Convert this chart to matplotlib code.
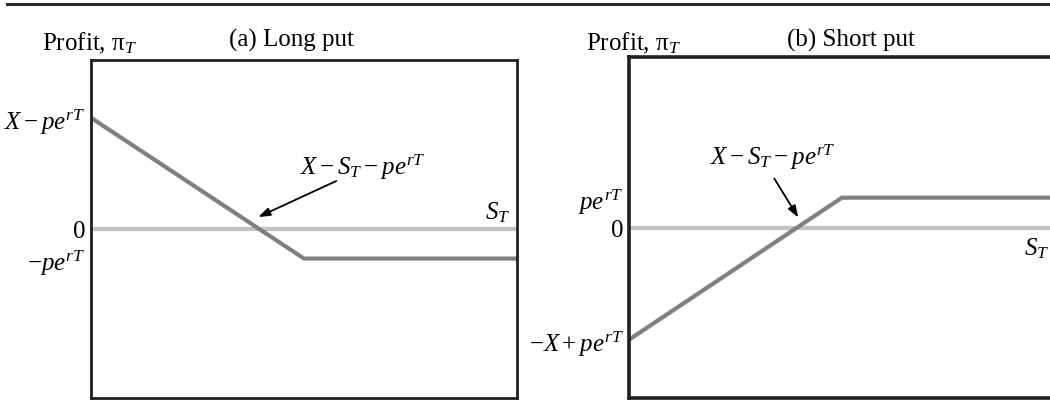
import matplotlib
matplotlib.use('Agg')
import matplotlib.pyplot as plt
from matplotlib.lines import Line2D
from matplotlib.transforms import offset_copy

plt.rcParams['font.family'] = ['Liberation Serif', 'DejaVu Serif']
plt.rcParams['mathtext.fontset'] = 'custom'
plt.rcParams['mathtext.rm'] = 'Liberation Serif'
plt.rcParams['mathtext.it'] = 'Liberation Serif:italic'
plt.rcParams['mathtext.bf'] = 'Liberation Serif:bold'

# payoff diagram data (stock price at expiry vs profit)
s_T = [0, 5, 10]
long_put = [3.95, -1.05, -1.05]
short_put = [-3.95, 1.05, 1.05]
breakeven = 3.95

long_ticks = [3.95, 0, -1.05]
long_labels = [r'$X - pe^{rT}$', '0', r'$-pe^{rT}$']
short_ticks = [1.05, 0, -3.95]
short_labels = [r'$pe^{rT}$', '0', r'$-X + pe^{rT}$']

FS = 18
PAYOFF = '#808080'
ZERO = '#c2c2c5'
INK = '#231f20'

fig = plt.figure(figsize=(10.5, 4.1), dpi=100)

# rule across the top
fig.add_artist(Line2D([7 / 1050, 1.0], [405 / 410, 405 / 410], color='#2b2b2b', lw=2.2,
                      transform=fig.transFigure))

axL = fig.add_axes([91 / 1050, 11 / 410, 426 / 1050, 338 / 410])
axR = fig.add_axes([629 / 1050, 11 / 410, 426 / 1050, 341 / 410])


def setup(ax, y, ticks, labels, spine_w):
    ax.axhline(0, color=ZERO, lw=3.0, zorder=1)
    ax.plot(s_T, y, color=PAYOFF, lw=3.0, zorder=2, solid_capstyle='butt')
    ax.set_xlim(0, 10)
    ax.set_ylim(-6, 6)
    ax.set_xticks([])
    ax.set_yticks(ticks)
    ax.set_yticklabels(labels, fontsize=FS)
    ax.tick_params(axis='y', length=0, pad=4)
    for sp in ax.spines.values():
        sp.set_linewidth(spine_w)
        sp.set_color(INK)


setup(axL, long_put, long_ticks, long_labels, 2.0)
setup(axR, short_put, short_ticks, short_labels, 2.6)


def pts(ax, dx, dy, base):
    return offset_copy(base, fig=fig, x=dx * 0.72, y=dy * 0.72, units='points')


# (a) long put
axL.text(0.47, 1.0, '(a) Long put', transform=pts(axL, 0, 14, axL.transAxes),
         ha='center', va='baseline', fontsize=FS)
axL.text(0.0, 1.0, r'Profit, $\mathrm{\pi}_{T}$', transform=pts(axL, -49, 11, axL.transAxes),
         ha='left', va='baseline', fontsize=FS)
axL.text(1.0, 0, r'$S_{T}$', transform=pts(axL, -7, 17, axL.get_yaxis_transform()),
         ha='right', va='center', fontsize=FS)
tipL = pts(axL, -1, 12, axL.transData)
axL.annotate('', xy=(breakeven, 0), xycoords=tipL, xytext=(78 * 0.72, 36 * 0.72),
             textcoords='offset points',
             arrowprops=dict(arrowstyle='-|>,head_length=0.7,head_width=0.25',
                             color='black', lw=1.3, shrinkA=0, shrinkB=0))
axL.annotate(r'$X - S_{T} - pe^{rT}$', xy=(breakeven, 0), xycoords=tipL,
             xytext=(105 * 0.72, 51 * 0.72), textcoords='offset points',
             ha='center', va='center', fontsize=FS)

# (b) short put
axR.text(0.52, 1.0, '(b) Short put', transform=pts(axR, 0, 11, axR.transAxes),
         ha='center', va='baseline', fontsize=FS)
axR.text(0.0, 1.0, r'Profit, $\mathrm{\pi}_{T}$', transform=pts(axR, -43, 8, axR.transAxes),
         ha='left', va='baseline', fontsize=FS)
axR.text(1.0, 0, r'$S_{T}$', transform=pts(axR, -6, -20, axR.get_yaxis_transform()),
         ha='right', va='center', fontsize=FS)
tipR = pts(axR, 1, 10, axR.transData)
axR.annotate('', xy=(breakeven, 0), xycoords=tipR, xytext=(-24 * 0.72, 39 * 0.72),
             textcoords='offset points',
             arrowprops=dict(arrowstyle='-|>,head_length=0.7,head_width=0.25',
                             color='black', lw=1.3, shrinkA=0, shrinkB=0))
axR.annotate(r'$X - S_{T} - pe^{rT}$', xy=(breakeven, 0), xycoords=tipR,
             xytext=(-25 * 0.72, 61 * 0.72), textcoords='offset points',
             ha='center', va='center', fontsize=FS)

fig.savefig('out.png', dpi=100)
